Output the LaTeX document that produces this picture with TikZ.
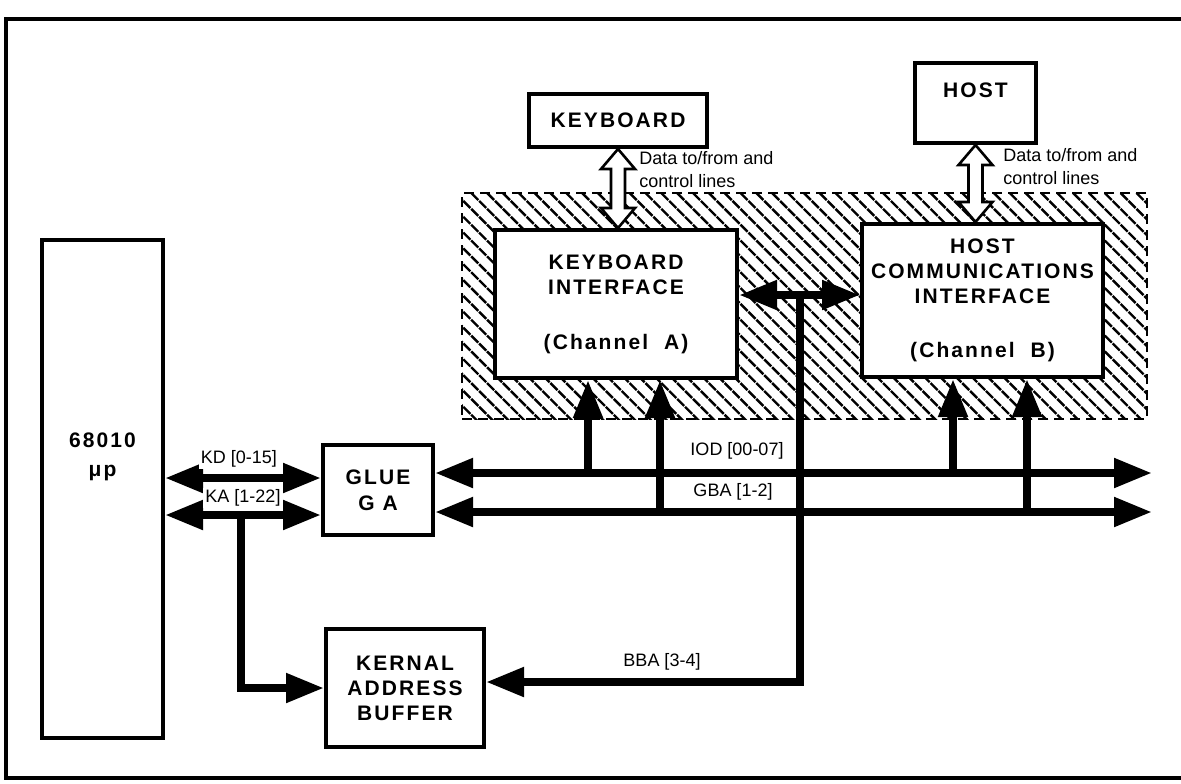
\documentclass[tikz,border=0pt]{standalone}
\usepackage{fontspec}
\setmainfont{Liberation Sans}
\newfontfamily\blockfont{Liberation Sans}[LetterSpace=10]
\usepackage{tikz}
\usetikzlibrary{arrows.meta,positioning,patterns.meta,calc}

\begin{document}
\begin{tikzpicture}[
  x=0.5pt, y=-0.5pt,
  >={Triangle[length=19pt,width=14pt]},
  block/.style={
    draw,
    fill=white,
    line width=2pt,
    inner sep=0pt,
    align=center,
    font={\blockfont\bfseries\fontsize{10.5}{12.5}\selectfont}
  },
  blocktext/.style={
    inner sep=0pt,
    align=center,
    font={\blockfont\bfseries\fontsize{10.5}{14.5}\selectfont}
  },
  bus/.style={line width=4pt},
  buslabel/.style={fill=white, inner sep=1pt, font={\fontsize{9}{11}\selectfont}},
  note/.style={inner sep=0pt, align=left, anchor=west, font={\fontsize{9}{11.5}\selectfont}},
  hollow/.style={draw, fill=white, line width=1.3pt, line join=miter},
  hatchbox/.style={
    draw,
    dash pattern=on 5pt off 3pt,
    line width=1.2pt,
    pattern={Lines[angle=-45,distance=5.6pt,line width=1.2pt]}
  }
]
  \useasboundingbox (0,0) rectangle (1181,783);

  % Outer frame
  \draw[line width=2pt] (1181,19) -- (6,19) -- (6,778) -- (1181,778);

  % Hatched I/O area
  \node[hatchbox, minimum width=342.5pt, minimum height=113pt] (ioarea) at (804.5,306) {};

  % Blocks
  \node[block, minimum width=60.5pt, minimum height=249pt] (cpu) at (102.5,489) {};
  \node[blocktext] (cpulbl) at (102.5,457) {68010\\μp};
  \node[block, minimum width=55pt, minimum height=45pt, font={\blockfont\bfseries\fontsize{10.5}{13}\selectfont}] (glue) at (378,490) {GLUE\\G~A};
  \node[block, minimum width=79pt, minimum height=59pt] (kab) at (405,688) {KERNAL\\ADDRESS\\BUFFER};
  \node[block, minimum width=89pt, minimum height=26.5pt] (kbd) at (618,120.5) {KEYBOARD};
  \node[block, minimum width=60.5pt, minimum height=40pt] (host) at (975.5,103) {};
  \node[blocktext] (hostlbl) at (975.5,90) {HOST};
  \node[block, minimum width=121pt, minimum height=74pt] (kbi) at (616,304)
    {KEYBOARD\\INTERFACE\\[15pt](Channel~~A)};
  \node[block, minimum width=120.5pt, minimum height=76.5pt] (hci) at (982.5,300.5)
    {HOST\\COMMUNICATIONS\\INTERFACE\\[14.5pt](Channel~~B)};

  % Data to/from and control lines
  \draw[hollow] let \p1=(kbd.south), \p2=(kbi.north) in
    (\x1,\y1) -- (\x1+8.5pt,\y1-10pt) -- (\x1+3.5pt,\y1-10pt) -- (\x1+3.5pt,\y2+10pt)
    -- (\x1+8.5pt,\y2+10pt) -- (\x1,\y2) -- (\x1-8.5pt,\y2+10pt) -- (\x1-3.5pt,\y2+10pt)
    -- (\x1-3.5pt,\y1-10pt) -- (\x1-8.5pt,\y1-10pt) -- cycle;
  \draw[hollow] let \p1=(host.south), \p2=(hci.north) in
    (\x1,\y1) -- (\x1+8.5pt,\y1-10pt) -- (\x1+3.5pt,\y1-10pt) -- (\x1+3.5pt,\y2+10pt)
    -- (\x1+8.5pt,\y2+10pt) -- (\x1,\y2) -- (\x1-8.5pt,\y2+10pt) -- (\x1-3.5pt,\y2+10pt)
    -- (\x1-3.5pt,\y1-10pt) -- (\x1-8.5pt,\y1-10pt) -- cycle;
  \node[note] (kbdnote) at (639,170) {Data to/from and\\control lines};
  \node[note] (hostnote) at (1003,167) {Data to/from and\\control lines};

  % CPU buses to glue and kernal buffer
  \draw[bus, <->] ([yshift=6pt]glue.west -| cpu.east) -- ([yshift=6pt]glue.west);
  \draw[bus, <->] ([yshift=-12.5pt]glue.west -| cpu.east) -- ([yshift=-12.5pt]glue.west);
  \coordinate (katap) at (241,515);
  \draw[bus, ->] (katap) |- (kab.west);

  % IO buses
  \coordinate (iodend) at (1152,473);
  \coordinate (gbaend) at (1152,512);
  \draw[bus, <->] ([yshift=8.5pt]glue.east) -- (iodend);
  \draw[bus, <->] ([yshift=-11pt]glue.east) -- (gbaend);
  \foreach \n/\px/\py/\b in {kbiod/588/473/kbi, kbgba/660/512/kbi, hciod/953/473/hci, hcgba/1027/512/hci} {
    \coordinate (\n) at (\px,\py);
    \draw[bus, ->] (\n) -- (\n |- \b.south);
  }

  % Channel link and BBA
  \draw[bus, <->] ([yshift=4.5pt]kbi.east) -- ([yshift=4.5pt]kbi.east -| hci.west);
  \coordinate (chtap) at (800,295);
  \draw[bus, ->] (chtap) |- ([yshift=3pt]kab.east);

  % Bus labels
  \node[buslabel] (kdlbl) at (239,459) {KD [0-15]};
  \node[buslabel] (kalbl) at (243,498) {KA [1-22]};
  \node[buslabel] (iodlbl) at (737,451) {IOD [00-07]};
  \node[buslabel] (gbalbl) at (733,492) {GBA [1-2]};
  \node[buslabel] (bbalbl) at (662,662) {BBA [3-4]};

\end{tikzpicture}
\end{document}
